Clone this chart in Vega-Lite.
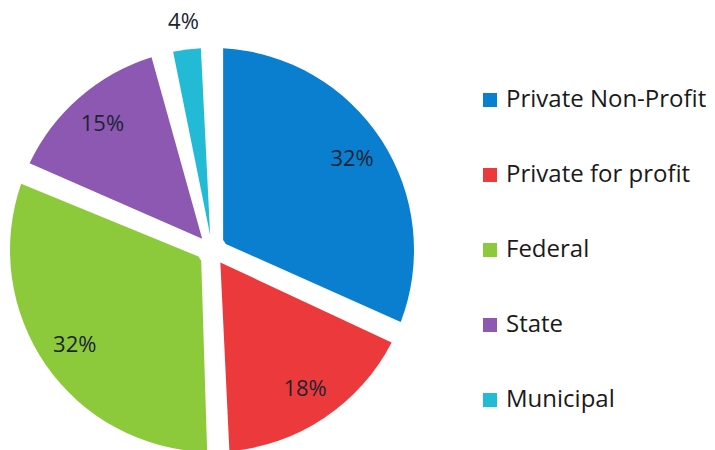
{
  "$schema": "https://vega.github.io/schema/vega-lite/v6.json",
  "width": 424,
  "height": 400,
  "padding": {"top": 50, "left": 0, "right": 291, "bottom": 0},
  "autosize": {"type": "none"},
  "background": "white",
  "config": {"view": {"stroke": null}, "font": "Open Sans"},
  "data": {
    "values": [
      {"sector": "Private Non-Profit", "pct": 32, "label": "32%", "idx": 1},
      {"sector": "Private for profit", "pct": 18, "label": "18%", "idx": 2},
      {"sector": "Federal", "pct": 32, "label": "32%", "idx": 3},
      {"sector": "State", "pct": 15, "label": "15%", "idx": 4},
      {"sector": "Municipal", "pct": 4, "label": "4%", "idx": 5}
    ]
  },
  "encoding": {
    "theta": {"field": "pct", "type": "quantitative", "stack": true},
    "order": {"field": "idx", "type": "quantitative"}
  },
  "layer": [
    {
      "mark": {"type": "arc", "outerRadius": 202, "innerRadius": 15, "padAngle": 0.11},
      "encoding": {
        "color": {
          "field": "sector",
          "type": "nominal",
          "sort": ["Private Non-Profit", "Private for profit", "Federal", "State", "Municipal"],
          "scale": {
            "domain": ["Private Non-Profit", "Private for profit", "Federal", "State", "Municipal"],
            "range": ["#0a7fd0", "#ec3a3c", "#8cca3c", "#8c58b2", "#22bad4"]
          },
          "legend": {
            "title": null,
            "orient": "none",
            "legendX": 478,
            "legendY": 38,
            "symbolType": "square",
            "symbolSize": 196,
            "symbolStrokeWidth": 0,
            "labelFontSize": 24,
            "labelFont": "Open Sans",
            "labelColor": "#1a1a1a",
            "labelOffset": 4,
            "rowPadding": 51,
            "labelLimit": 300
          }
        }
      }
    },
    {
      "mark": {"type": "text", "radius": 167, "fontSize": 22, "font": "Open Sans"},
      "encoding": {
        "detail": {"field": "sector", "type": "nominal"},
        "color": {"value": "#1c2433"},
        "text": {"condition": {"test": "datum.sector !== 'Municipal'", "field": "label"}, "value": ""}
      }
    },
    {
      "mark": {"type": "text", "radius": 230, "fontSize": 22, "font": "Open Sans"},
      "encoding": {
        "detail": {"field": "sector", "type": "nominal"},
        "color": {"value": "#1c2433"},
        "text": {"condition": {"test": "datum.sector === 'Municipal'", "field": "label"}, "value": ""}
      }
    }
  ]
}
